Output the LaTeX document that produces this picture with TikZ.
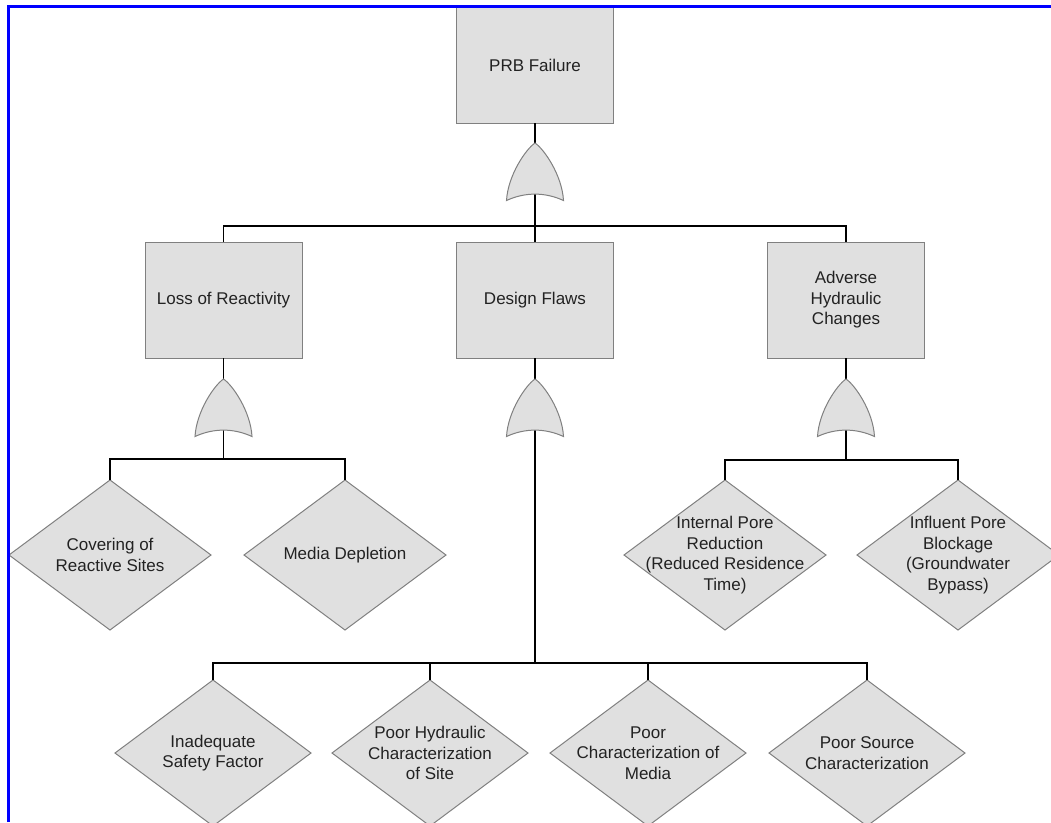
\documentclass[tikz,border=0pt]{standalone}
\usepackage{fontspec}
\setmainfont{Liberation Sans}
\usetikzlibrary{shapes.geometric}
\definecolor{boxfill}{RGB}{224,224,224}
\definecolor{boxline}{RGB}{128,128,128}
\definecolor{txtcol}{RGB}{34,34,34}
\tikzset{
  evbox/.style={draw=boxline, fill=boxfill, line width=1pt, minimum width=157pt, minimum height=116pt, inner sep=0pt, outer sep=0pt, align=center, text=txtcol, font=\fontsize{17}{20.5}\selectfont},
  evdia/.style={diamond, draw=boxline, fill=boxfill, line width=1pt, inner sep=0pt, outer sep=0pt, minimum width=202pt, minimum height=150pt},
  evdiasm/.style={evdia, minimum width=196pt, minimum height=146pt},
  dtext/.style={align=center, text=txtcol, inner sep=0pt, font=\fontsize{17}{20.5}\selectfont},
  conn/.style={draw=black, line width=1.5pt},
  orgate/.pic={
    \path[draw=boxline, fill=boxfill, line width=1pt]
      (-28.5,57.5) .. controls (-27,32) and (-9,6) .. (0,0)
      .. controls (9,6) and (27,32) .. (28.5,57.5)
      .. controls (10,49) and (-10,49) .. (-28.5,57.5) -- cycle;
    \coordinate (-top) at (0,0);
    \coordinate (-bot) at (0,51);
  }
}
\begin{document}
\begin{tikzpicture}[x=1pt, y=-1pt]
\useasboundingbox (0,0) rectangle (1051,822);
\fill[white] (0,0) rectangle (1051,822);

% top event and intermediate events
\node[evbox] (prb) at (535,65) {PRB Failure};
\node[evbox] (loss) at (223.5,300) {Loss of Reactivity};
\node[evbox] (design) at (535,300) {Design Flaws};
\node[evbox] (adv) at (846,300) {Adverse\\Hydraulic\\Changes};

% basic events
\node[evdia] (cov) at (110,555) {};
\node[evdia] (med) at (345,555) {};
\node[evdia] (int) at (725,555) {};
\node[evdia] (inf) at (958,555) {};
\node[evdiasm] (s1) at (213,753) {};
\node[evdiasm] (s2) at (430,753) {};
\node[evdiasm] (s3) at (648,753) {};
\node[evdiasm] (s4) at (867,753) {};

\node[dtext] (covt) at (cov) {Covering of\\Reactive Sites};
\node[dtext] (medt) at (med) {Media Depletion};
\node[dtext] (intt) at (int) {Internal Pore\\Reduction\\(Reduced Residence\\Time)};
\node[dtext] (inft) at (inf) {Influent Pore\\Blockage\\(Groundwater\\Bypass)};
\node[dtext] (s1t) at (s1) {Inadequate\\Safety Factor};
\node[dtext] (s2t) at (s2) {Poor Hydraulic\\Characterization\\of Site};
\node[dtext] (s3t) at (s3) {Poor\\Characterization of\\Media};
\node[dtext] (s4t) at (s4) {Poor Source\\Characterization};

% bus junctions
\coordinate (b1) at (535,226);
\coordinate (b2) at (223.5,459);
\coordinate (b3) at (846,460);
\coordinate (b4) at (535,663);

% connectors
\draw[conn] (prb.south) -- (b1);
\draw[conn] (loss.north) |- (b1) -| (adv.north);
\draw[conn] (b1) -- (design.north);

\draw[conn] (loss.south) -- (b2);
\draw[conn] (cov.north) |- (b2) -| (med.north);

\draw[conn] (adv.south) -- (b3);
\draw[conn] (int.north) |- (b3) -| (inf.north);

\draw[conn] (design.south) -- (b4);
\draw[conn] (s1.north) |- (b4) -| (s4.north);
\draw[conn] (s2.north) -- (s2.north |- b4);
\draw[conn] (s3.north) -- (s3.north |- b4);

% OR gates
\pic (g1) at (535,143) {orgate};
\pic (g2) at (223.5,379) {orgate};
\pic (g3) at (535,379) {orgate};
\pic (g4) at (846,379) {orgate};

% frame
\draw[blue, line width=3pt] (8.7,822) -- (8.7,6) -- (1051,6);
\end{tikzpicture}
\end{document}
